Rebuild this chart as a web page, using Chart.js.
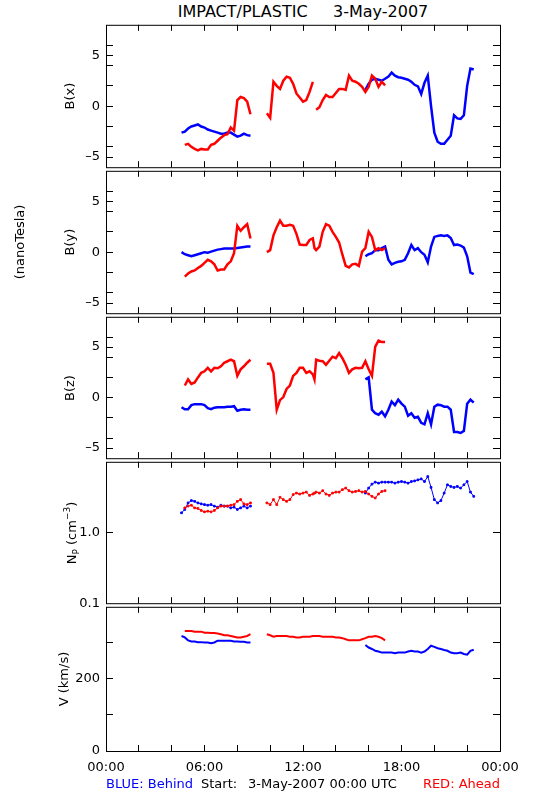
<!DOCTYPE html>
<html>
<head>
<meta charset="utf-8">
<script src="https://cdn.jsdelivr.net/npm/chart.js@4.4.1/dist/chart.umd.min.js"></script>
<style>
  html, body { margin: 0; padding: 0; background: #fff; }
  #page { position: relative; width: 550px; height: 800px; overflow: hidden;
          font-family: "DejaVu Sans", sans-serif; color: #000; }
  #page canvas { position: absolute; left: 0; }
  .txt { position: absolute; white-space: pre; font-size: 13px; line-height: 1; }
  .mid { transform: translateY(-50%); }
  .rot { position: absolute; white-space: pre; font-size: 13px; line-height: 14px;
         width: 120px; height: 14px; margin-left: -60px; margin-top: -7px;
         text-align: center; transform: rotate(-90deg); }
</style>
</head>
<body>
<div id="page">
  <div class="txt" style="left:303px;top:12px;font-size:16px;transform:translate(-50%,-50%)">IMPACT/PLASTIC     3-May-2007</div>

  <canvas id="c1"></canvas>
  <canvas id="c2"></canvas>
  <canvas id="c3"></canvas>
  <canvas id="c4"></canvas>
  <canvas id="c5"></canvas>

  <div class="rot" style="left:70px;top:96px">B(x)</div>
  <div class="rot" style="left:70px;top:242px">B(y)</div>
  <div class="rot" style="left:70px;top:388px">B(z)</div>
  <div class="rot" style="left:20px;top:242px">(nanoTesla)</div>
  <div class="rot" style="left:67px;top:533px">N<span style="font-size:9px;vertical-align:-3px">P</span> (cm<span style="font-size:9px;vertical-align:6px">−3</span>)</div>
  <div class="rot" style="left:64px;top:679px">V (km/s)</div>

  <div class="txt mid" style="left:106px;top:783px;color:#0000ff">BLUE: Behind</div>
  <div class="txt mid" style="left:201px;top:783px">Start:</div>
  <div class="txt mid" style="left:248px;top:783px">3-May-2007 00:00 UTC</div>
  <div class="txt mid" style="right:50px;top:783px;color:#ff0000">RED: Ahead</div>
</div>

<script>
// hours of day, x axis
const hourLabelValues = [0, 6, 12, 18, 24];
const hourLabels = ['00:00', '06:00', '12:00', '18:00', '00:00'];
const hourTicks = [2, 4, 6, 8, 10, 12, 14, 16, 18, 20, 22];

// y axis ticks / labels
const bTicks = [-5, -4, -2, 0, 2, 4, 5, 6];
const bLabelValues = [-5, 0, 5];
const bLabels = ['–5', '0', '5'];
const npTicks = [1];
const npLabelValues = [0.1, 1];
const npLabels = ['0.1', '1.0'];
const vTicks = [100, 200, 300];
const vLabelValues = [0, 200];
const vLabels = ['0', '200'];

// STEREO Behind (blue) - null = data gap
const behindHours = [4.6, 4.8, 5.0, 5.2, 5.4, 5.6, 5.8, 6.0, 6.2, 6.4, 6.6, 6.8, 7.0, 7.2, 7.4, 7.6, 7.8, 8.0, 8.2, 8.4, 8.6, 8.8,
  12.0,
  15.8, 16.0, 16.2, 16.4, 16.6, 16.8, 17.0, 17.2, 17.4, 17.6, 17.8, 18.0, 18.2, 18.4, 18.6, 18.8, 19.0, 19.2, 19.4, 19.6, 19.8,
  20.0, 20.2, 20.4, 20.6, 20.8, 21.0, 21.2, 21.4, 21.6, 21.8, 22.0, 22.2, 22.4];
const behindBx = [-2.6, -2.5, -2.2, -2.0, -1.9, -1.8, -2.0, -2.1, -2.3, -2.4, -2.5, -2.6, -2.7, -2.7, -2.6, -2.6, -2.8, -3.0, -2.9, -2.7, -2.85, -2.9,
  null,
  1.6, 2.2, 2.6, 2.7, 2.6, 2.5, 2.7, 2.9, 3.3, 3.0, 2.85, 2.8, 2.7, 2.6, 2.4, 2.1, 1.95, 1.2, 2.3, 3.0, 0.0,
  -2.6, -3.5, -3.7, -3.7, -3.3, -2.9, -0.9, -1.2, -1.25, -0.9, 2.0, 3.7, 3.6];
const behindBy = [0.0, -0.2, -0.3, -0.4, -0.3, -0.2, -0.1, 0.0, -0.05, 0.05, 0.15, 0.25, 0.3, 0.35, 0.35, 0.35, 0.35, 0.4, 0.45, 0.5, 0.55, 0.55,
  null,
  -0.4, -0.2, -0.1, 0.2, 0.2, 0.4, 0.55, -0.75, -1.2, -1.05, -0.95, -0.9, -0.75, -0.1, 0.7, 0.2, 0.4, 0.0, -0.25, -1.0, 0.55,
  1.5, 1.6, 1.65, 1.6, 1.65, 1.4, 0.7, 0.75, 0.65, 0.45, -0.4, -2.0, -2.15];
const behindBz = [-0.95, -1.15, -1.15, -0.75, -0.65, -0.65, -0.65, -0.75, -1.05, -1.15, -1.0, -0.95, -0.95, -0.95, -0.9, -0.9, -0.85, -1.3, -1.2, -1.15, -1.2, -1.2,
  null,
  1.8, 2.0, -1.2, -1.55, -1.7, -1.4, -1.85, -1.2, -0.4, -0.75, -0.2, -0.6, -0.9, -1.8, -1.55, -2.0, -1.9, -2.5, -2.65, -1.55, -2.65,
  -0.9, -0.7, -0.75, -0.9, -0.9, -1.2, -3.4, -3.4, -3.5, -3.3, -0.6, -0.2, -0.5];
const behindNp = [1.90, 2.12, 2.62, 2.83, 2.76, 2.62, 2.54, 2.48, 2.43, 2.48, 2.36, 2.28, 2.43, 2.36, 2.36, 2.23, 2.28, 2.12, 2.23, 2.36, 2.23, 2.36,
  null,
  3.61, 4.25, 4.83, 5.15, 4.99, 5.15, 5.15, 5.15, 5.15, 4.99, 5.15, 5.26, 5.15, 4.99, 5.26, 5.37, 5.55, 5.73, 5.26, 6.18, 4.34,
  2.92, 2.62, 2.83, 3.61, 4.73, 4.48, 4.34, 4.48, 4.25, 4.73, 5.26, 3.73, 3.25];
const behindV = [319, 315, 307, 304, 304, 302, 302, 301, 301, 299, 301, 306, 306, 306, 306, 306, 304, 304, 303, 303, 301, 301,
  null,
  294, 287, 283, 278, 276, 273, 273, 273, 273, 271, 273, 273, 273, 276, 278, 276, 276, 273, 276, 283, 292,
  289, 285, 283, 280, 278, 273, 271, 271, 273, 269, 267, 278, 281];

// STEREO Ahead (red)
const aheadHours = [4.8, 5.0, 5.2, 5.4, 5.6, 5.8, 6.0, 6.2, 6.4, 6.6, 6.8, 7.0, 7.2, 7.4, 7.6, 7.8, 8.0, 8.2, 8.4, 8.6, 8.8,
  9.3,
  9.8, 10.0, 10.2, 10.4, 10.6, 10.8, 11.0, 11.2, 11.4, 11.6, 11.8, 12.0, 12.2, 12.4, 12.6,
  12.7,
  12.8, 13.0, 13.2, 13.4, 13.6, 13.8, 14.0, 14.2, 14.4, 14.6, 14.8, 15.0, 15.2, 15.4, 15.6, 15.8, 16.0, 16.2, 16.4, 16.6, 16.8, 17.0];
const aheadBx = [-3.8, -3.7, -4.0, -4.2, -4.35, -4.2, -4.25, -4.25, -3.8, -3.7, -3.4, -3.1, -2.85, -2.75, -2.1, -2.4, 0.6, 0.9, 0.8, 0.45, -0.8,
  null,
  -0.7, -1.15, 2.4, 2.0, 1.7, 2.5, 2.9, 2.8, 2.2, 1.25, 0.85, 0.45, 0.6, 1.4, 2.4,
  null,
  -0.35, -0.1, 0.6, 1.1, 0.9, 0.9, 1.3, 1.7, 1.7, 1.6, 3.0, 2.5, 2.4, 2.2, 1.9, 1.4, 1.9, 3.0, 2.7, 1.9, 2.4, 2.05];
const aheadBy = [-2.4, -2.1, -1.9, -1.8, -1.55, -1.35, -1.05, -0.75, -0.9, -1.2, -1.8, -1.7, -1.7, -1.2, -0.9, -0.1, 2.6, 2.1, 2.45, 2.75, 1.35,
  null,
  0.0, 0.2, 1.65, 2.45, 3.1, 2.6, 2.6, 2.7, 2.6, 1.8, 0.75, 0.7, 0.7, 1.2, 1.35,
  0.4,
  0.2, 0.55, 2.0, 2.75, 2.6, 2.0, 1.5, 0.95, -0.25, -1.35, -1.5, -1.2, -1.15, -1.35, 0.05, 0.4, 2.0, 1.5, 0.2, 0.4, 0.2, 0.4];
const aheadBz = [1.2, 1.8, 1.35, 1.5, 2.0, 2.45, 2.6, 2.95, 2.6, 2.95, 2.9, 3.1, 3.45, 3.6, 3.75, 3.6, 2.15, 2.8, 3.1, 3.45, 3.75,
  null,
  3.35, 3.35, 2.45, -1.2, -0.25, 0.05, 0.85, 1.2, 2.15, 2.45, 2.95, 2.95, 2.45, 2.6, 2.3,
  1.8,
  3.75, 3.65, 3.6, 3.25, 3.65, 4.05, 3.9, 4.4, 3.9, 3.25, 2.45, 2.8, 2.95, 2.9, 2.95, 3.6, 2.8, 2.15, 5.05, 5.65, 5.5, 5.5];
const aheadNp = [2.23, 2.36, 2.43, 2.23, 2.19, 2.05, 1.96, 2.00, 1.96, 2.05, 2.23, 2.36, 2.36, 2.36, 2.43, 2.48, 2.76, 2.92, 2.54, 2.48, 2.62,
  null,
  2.62, 2.48, 2.92, 2.48, 3.15, 2.92, 2.76, 2.92, 3.43, 3.61, 3.50, 3.61, 3.73, 3.35, 3.50,
  3.6,
  3.73, 3.61, 3.90, 3.50, 3.35, 3.61, 3.73, 3.73, 4.03, 4.25, 3.90, 3.73, 3.81, 3.90, 3.73, 3.81, 3.50, 3.25, 3.08, 3.50, 3.81, 3.90];
const aheadV = [333, 333, 333, 331, 331, 331, 328, 328, 327, 327, 326, 324, 321, 321, 319, 317, 315, 315, 317, 319, 324,
  null,
  324, 321, 317, 319, 319, 319, 319, 317, 317, 315, 315, 317, 317, 317, 319,
  319,
  319, 319, 317, 317, 317, 317, 315, 315, 313, 310, 307, 307, 307, 307, 310, 313, 317, 317, 319, 317, 313, 307];

const BLUE = '#0000ff';
const RED = '#ff0000';
const FONT = { family: 'DejaVu Sans', size: 13 };

function pts(hours, vals) {
  return hours.map((h, i) => ({ x: h, y: vals[i] }));
}

// box + inward ticks on all four sides, like the IDL plot
function framePlugin(yTicks) {
  return {
    id: 'frame',
    afterDraw(chart) {
      const { ctx, chartArea: a, scales } = chart;
      ctx.save();
      ctx.strokeStyle = '#000';
      ctx.lineWidth = 1;
      ctx.beginPath();
      hourTicks.forEach(h => {
        const px = Math.floor(scales.x.getPixelForValue(h)) + 0.5;
        ctx.moveTo(px, a.top); ctx.lineTo(px, a.top + 6);
        ctx.moveTo(px, a.bottom); ctx.lineTo(px, a.bottom - 6);
      });
      yTicks.forEach(v => {
        const py = Math.floor(scales.y.getPixelForValue(v)) + 0.5;
        ctx.moveTo(a.left, py); ctx.lineTo(a.left + 7, py);
        ctx.moveTo(a.right, py); ctx.lineTo(a.right - 7, py);
      });
      ctx.stroke();
      ctx.strokeRect(a.left + 0.5, a.top + 0.5, a.right - a.left, a.bottom - a.top);
      ctx.restore();
    }
  };
}

function panel(id, top, height, p) {
  const cv = document.getElementById(id);
  const last = !!p.last;
  const h = 12 + height + (last ? 32 : 12);
  cv.width = 550; cv.height = h;
  cv.style.top = (top - 12) + 'px';
  cv.style.width = '550px'; cv.style.height = h + 'px';

  const line = (data, color, order) => ({
    data, borderColor: color, backgroundColor: color, showLine: true,
    borderWidth: p.lw || 2.5, pointRadius: p.pr || 0, pointStyle: 'rect', order
  });

  new Chart(cv.getContext('2d'), {
    type: 'scatter',
    data: {
      datasets: [
        line(pts(aheadHours, p.ahead), RED, 0),
        line(pts(behindHours, p.behind), BLUE, 1)
      ]
    },
    options: {
      responsive: false,
      animation: false,
      layout: { padding: { left: 0, right: 50, top: 12, bottom: last ? 0 : 12 } },
      plugins: { legend: { display: false }, tooltip: { enabled: false } },
      scales: {
        x: {
          type: 'linear', min: 0, max: 24, display: last,
          grid: { display: false, drawTicks: false }, border: { display: false },
          afterBuildTicks: s => { s.ticks = hourLabelValues.map(v => ({ value: v })); },
          afterFit: s => { s.height = last ? 32 : 0; },
          ticks: { padding: 9, color: '#000', font: FONT, maxRotation: 0, autoSkip: false,
                   callback: (v, i) => hourLabels[i] }
        },
        y: {
          type: p.log ? 'logarithmic' : 'linear', min: p.min, max: p.max,
          grid: { display: false, drawTicks: false }, border: { display: false },
          afterFit: s => { s.width = 106; },
          afterBuildTicks: s => { s.ticks = p.labelValues.map(v => ({ value: v })); },
          ticks: { padding: 6, color: '#000', font: FONT, autoSkip: false,
                   callback: (v, i) => p.labels[i] }
        }
      }
    },
    plugins: [framePlugin(p.ticks)]
  });
}

panel('c1', 23, 146, { min: -6, max: 8, ticks: bTicks, labelValues: bLabelValues, labels: bLabels, ahead: aheadBx, behind: behindBx });
panel('c2', 169, 146, { min: -6, max: 8, ticks: bTicks, labelValues: bLabelValues, labels: bLabels, ahead: aheadBy, behind: behindBy });
panel('c3', 315, 145, { min: -6, max: 8, ticks: bTicks, labelValues: bLabelValues, labels: bLabels, ahead: aheadBz, behind: behindBz });
panel('c4', 460, 145, { log: true, min: 0.1, max: 10, ticks: npTicks, labelValues: npLabelValues, labels: npLabels,
                        ahead: aheadNp, behind: behindNp, lw: 1, pr: 1.2 });
panel('c5', 605, 146, { last: true, min: 0, max: 400, ticks: vTicks, labelValues: vLabelValues, labels: vLabels,
                        ahead: aheadV, behind: behindV, lw: 2 });
</script>
</body>
</html>
